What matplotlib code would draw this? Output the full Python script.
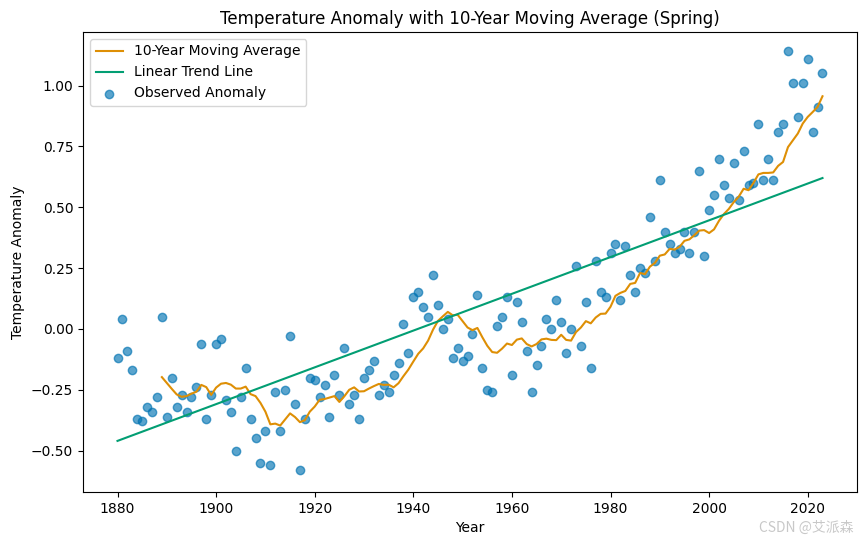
import matplotlib
matplotlib.use("Agg")
import matplotlib.pyplot as plt
import numpy as np
import pandas as pd

years = list(range(1880, 2024))

anomaly = [
    -0.12, 0.04, -0.09, -0.17, -0.37, -0.38, -0.32, -0.34, -0.28, 0.05,   # 1880s
    -0.36, -0.20, -0.32, -0.27, -0.34, -0.28, -0.24, -0.06, -0.37, -0.27,  # 1890s
    -0.06, -0.04, -0.29, -0.34, -0.50, -0.28, -0.16, -0.37, -0.45, -0.55,  # 1900s
    -0.42, -0.56, -0.26, -0.42, -0.25, -0.03, -0.31, -0.58, -0.37, -0.20,  # 1910s
    -0.21, -0.28, -0.23, -0.36, -0.19, -0.27, -0.08, -0.31, -0.27, -0.37,  # 1920s
    -0.20, -0.17, -0.13, -0.27, -0.23, -0.26, -0.19, -0.14, 0.02, -0.10,   # 1930s
    0.13, 0.15, 0.09, 0.05, 0.22, 0.10, 0.00, 0.04, -0.12, -0.08,          # 1940s
    -0.13, -0.11, -0.02, 0.14, -0.16, -0.25, -0.26, 0.01, 0.05, 0.13,      # 1950s
    -0.19, 0.11, 0.03, -0.09, -0.26, -0.15, -0.07, 0.04, 0.00, 0.12,       # 1960s
    0.03, -0.10, 0.00, 0.26, -0.07, 0.11, -0.16, 0.28, 0.15, 0.13,         # 1970s
    0.31, 0.35, 0.12, 0.34, 0.22, 0.15, 0.25, 0.23, 0.46, 0.28,            # 1980s
    0.61, 0.40, 0.35, 0.31, 0.33, 0.40, 0.31, 0.40, 0.65, 0.30,            # 1990s
    0.49, 0.55, 0.70, 0.59, 0.54, 0.68, 0.53, 0.73, 0.59, 0.60,            # 2000s
    0.84, 0.61, 0.70, 0.61, 0.81, 0.84, 1.14, 1.01, 0.87, 1.01,            # 2010s
    1.11, 0.81, 0.91, 1.05,                                                # 2020s
]

# trend line (start / end year)
trend_years = [1880, 2023]
trend_values = [-0.46, 0.62]

df = pd.DataFrame({"year": years, "anomaly": anomaly})
df["ma10"] = df["anomaly"].rolling(window=10).mean()

slope, intercept = np.polyfit(trend_years, trend_values, 1)
df["trend"] = slope * df["year"] + intercept

fig = plt.figure(figsize=(8.66, 5.45), dpi=100)
ax = fig.add_axes([83 / 866, 1 - 492 / 545, (857 - 83) / 866, (492 - 32) / 545])

ax.plot(df["year"], df["ma10"], color="#de8f05", linewidth=1.5, label="10-Year Moving Average")
ax.plot(df["year"], df["trend"], color="#029e73", linewidth=1.5, label="Linear Trend Line")
ax.scatter(df["year"], df["anomaly"], color="#0173b2", alpha=0.65, s=36, label="Observed Anomaly")

ax.set_xlim(1873, 2030)
ax.set_ylim(-0.67, 1.22)
ax.set_yticks([-0.5, -0.25, 0.0, 0.25, 0.5, 0.75, 1.0])
ax.set_xlabel("Year")
ax.set_ylabel("Temperature Anomaly")
ax.set_title("Temperature Anomaly with 10-Year Moving Average (Spring)")
ax.legend(loc="upper left")

fig.text(0.985, 0.018, "CSDN @艾派森", ha="right", va="bottom", fontsize=10,
         color="#bbbbbb", alpha=0.8, family=["Noto Sans CJK SC", "DejaVu Sans"])

fig.savefig("out.png", dpi=100)
plt.close(fig)
